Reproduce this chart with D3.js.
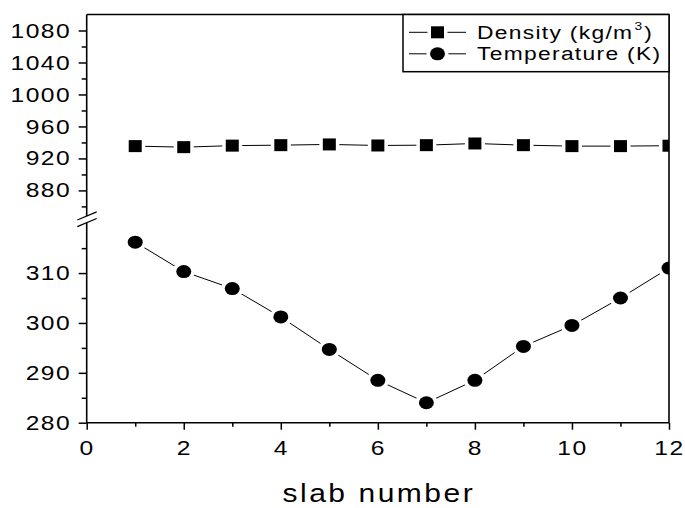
<!DOCTYPE html>
<html>
<head>
<meta charset="utf-8">
<script src="https://cdn.jsdelivr.net/npm/d3@7"></script>
<style>
  body { margin: 0; background: #fff; }
  svg { display: block; font-family: "Liberation Sans", Arial, sans-serif; }
</style>
</head>
<body>
<div id="chart"></div>
<script>
// data
const slabs = [1, 2, 3, 4, 5, 6, 7, 8, 9, 10, 11, 12];
const density = [935.4, 934.1, 936.0, 936.6, 937.5, 936.2, 936.6, 938.7, 936.6, 935.4, 935.4, 935.9];
const temperature = [316.2, 310.3, 306.9, 301.2, 294.7, 288.5, 284.0, 288.5, 295.3, 299.5, 305.0, 311.0];
const xMajor = [0, 2, 4, 6, 8, 10, 12];
const xMinor = [1, 3, 5, 7, 9, 11];
const densityMajor = [880, 920, 960, 1000, 1040, 1080];
const densityMinor = [860, 900, 940, 980, 1020, 1060];
const tempMajor = [280, 290, 300, 310];
const tempMinor = [285, 295, 305, 315];

const W = 685, H = 508;
const plotL = 86.7, plotR = 669, plotT = 14.5, plotB = 422.7;
const breakTop = 216, breakBot = 222.7;
const SX = 1.2; // the original text is a bit stretched and spaced out

const svg = d3.select("#chart").append("svg").attr("width", W).attr("height", H);
svg.append("rect").attr("width", W).attr("height", H).attr("fill", "#fff");

// scales
const x = d3.scaleLinear().domain([0, 12]).range([plotL, plotR]);
const yTop = d3.scaleLinear().domain([848, 1100]).range([breakTop, plotT]);
const yBot = d3.scaleLinear().domain([280, 320.1]).range([plotB, breakBot]);

svg.append("clipPath").attr("id", "plot")
  .append("rect").attr("x", plotL).attr("y", plotT).attr("width", plotR - plotL).attr("height", plotB - plotT);

const plot = svg.append("g").attr("clip-path", "url(#plot)");

// series
const line = (yScale, vals) => d3.line().x((d, i) => x(slabs[i])).y(d => yScale(d))(vals);

plot.append("path").attr("d", line(yTop, density))
  .attr("fill", "none").attr("stroke", "#000").attr("stroke-width", 1);
plot.append("path").attr("d", line(yBot, temperature))
  .attr("fill", "none").attr("stroke", "#000").attr("stroke-width", 1);

function square(g, cx, cy) {
  g.append("rect").attr("x", cx - 6.5).attr("y", cy - 6).attr("width", 13).attr("height", 12)
    .attr("fill", "#000").attr("stroke", "#fff").attr("stroke-width", 7).attr("paint-order", "stroke");
}
function dot(g, cx, cy) {
  g.append("ellipse").attr("cx", cx).attr("cy", cy).attr("rx", 7.5).attr("ry", 6.5)
    .attr("fill", "#000").attr("stroke", "#fff").attr("stroke-width", 7).attr("paint-order", "stroke");
}
density.forEach((d, i) => square(plot, x(slabs[i]), yTop(d)));
temperature.forEach((d, i) => dot(plot, x(slabs[i]), yBot(d)));

// axes
function styleAxis(g) {
  g.select(".domain").remove();
  g.selectAll(".tick line").attr("stroke", "#000").attr("stroke-width", 1.5);
}

const xAxis = svg.append("g").attr("transform", `translate(0,${plotB})`)
  .call(d3.axisBottom(x).tickValues(xMajor).tickSize(7).tickFormat(d3.format("d")));
styleAxis(xAxis);
xAxis.selectAll("text").attr("font-size", 20.5).attr("fill", "#000").attr("y", 17.7)
  .attr("letter-spacing", 1.25).attr("transform", `scale(${SX},1)`)
  .style("font-family", "Liberation Sans, Arial, sans-serif");
svg.append("g").attr("transform", `translate(0,${plotB})`)
  .call(d3.axisBottom(x).tickValues(xMinor).tickSize(4).tickFormat(""))
  .call(styleAxis);

function yAxis(scale, major, minor) {
  const g = svg.append("g").attr("transform", `translate(${plotL},0)`)
    .call(d3.axisLeft(scale).tickValues(major).tickSize(8).tickFormat(d3.format("d")));
  styleAxis(g);
  g.selectAll("text").attr("font-size", 20.5).attr("fill", "#000").attr("x", -15.5 / SX)
    .attr("letter-spacing", 1.25).attr("transform", `scale(${SX},1)`)
    .style("font-family", "Liberation Sans, Arial, sans-serif");
  svg.append("g").attr("transform", `translate(${plotL},0)`)
    .call(d3.axisLeft(scale).tickValues(minor).tickSize(5).tickFormat(""))
    .call(styleAxis);
}
yAxis(yTop, densityMajor, densityMinor);
yAxis(yBot, tempMajor, tempMinor);

// frame with the broken left axis
const frame = svg.append("g").attr("stroke", "#000").attr("stroke-width", 1.6).attr("fill", "none");
frame.append("line").attr("x1", plotL).attr("x2", plotL).attr("y1", plotT).attr("y2", breakTop);
frame.append("line").attr("x1", plotL).attr("x2", plotL).attr("y1", breakBot).attr("y2", plotB);
frame.append("line").attr("x1", plotL).attr("x2", plotR).attr("y1", plotB).attr("y2", plotB);
frame.append("line").attr("x1", plotR).attr("x2", plotR).attr("y1", plotT).attr("y2", plotB);
frame.append("line").attr("x1", plotL).attr("x2", plotR).attr("y1", plotT).attr("y2", plotT);
// break marks
frame.append("line").attr("x1", 77.3).attr("y1", breakTop + 4).attr("x2", 96.7).attr("y2", breakTop - 4.2).attr("stroke-width", 1.3);
frame.append("line").attr("x1", 77.3).attr("y1", breakBot + 4).attr("x2", 96.7).attr("y2", breakBot - 4.2).attr("stroke-width", 1.3);

// legend
const lg = svg.append("g");
lg.append("rect").attr("x", 403).attr("y", plotT).attr("width", plotR - 403).attr("height", 71.7 - plotT)
  .attr("fill", "#fff").attr("stroke", "#000").attr("stroke-width", 1.5);
const rows = [
  { y: 32.3, mark: square, label: "Density (kg/m", sup: "3", tail: ")" },
  { y: 53.8, mark: dot, label: "Temperature (K)" }
];
rows.forEach(r => {
  lg.append("line").attr("x1", 409).attr("x2", 466).attr("y1", r.y).attr("y2", r.y)
    .attr("stroke", "#000").attr("stroke-width", 1);
  r.mark(lg, 437.5, r.y);
  const t = lg.append("text").attr("transform", `translate(477,${r.y + 6.5}) scale(${SX},1)`)
    .attr("font-size", 19).attr("letter-spacing", 1.1).attr("fill", "#000").text(r.label);
  if (r.sup) {
    t.append("tspan").attr("font-size", 11.5).attr("dy", -8.5).attr("dx", 1).text(r.sup);
    t.append("tspan").attr("dy", 8.5).attr("dx", 0.5).text(r.tail);
  }
});

// axis title
svg.append("text").attr("transform", `translate(${(plotL + plotR) / 2 + 1},502) scale(${SX},1)`)
  .attr("text-anchor", "middle").attr("font-size", 25).attr("letter-spacing", 2.1)
  .attr("fill", "#000").text("slab number");
</script>
</body>
</html>
